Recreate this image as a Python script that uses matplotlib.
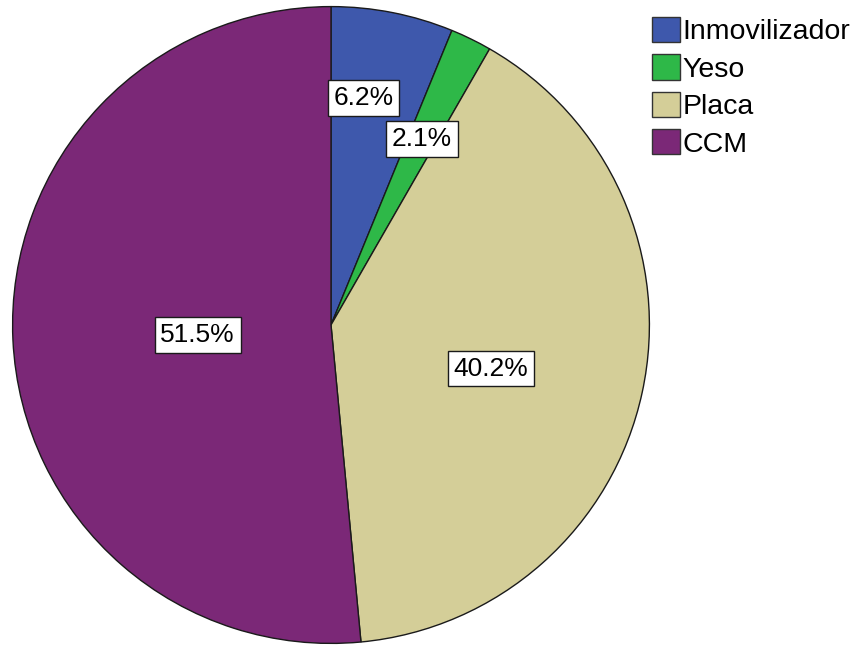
import numpy as np
import matplotlib.pyplot as plt
from matplotlib.patches import Patch

plt.rcParams['font.family'] = ['Liberation Sans', 'DejaVu Sans']

categories = ['Inmovilizador', 'Yeso', 'Placa', 'CCM']
percentages = [6.2, 2.1, 40.2, 51.5]
colors = ['#3E58AC', '#2EB848', '#D4CE98', '#7B2877']
# radial / angular placement of each percentage label
label_radius = [0.72, 0.65, 0.52, 0.42]
label_shift = [3.0, 0.0, -3.0, 1.5]

fig = plt.figure(figsize=(8.55, 6.45), dpi=100)
W, H = 855, 645
cx, cy, r = 331, 325, 320
ax = fig.add_axes([(cx - r) / W, (H - cy - r) / H, 2 * r / W, 2 * r / H])

wedges, _ = ax.pie(percentages, colors=colors, startangle=90, counterclock=False,
                   radius=1, wedgeprops=dict(edgecolor='#1a1a1a', linewidth=1.0))
ax.set_xlim(-1.005, 1.005)
ax.set_ylim(-1.005, 1.005)
ax.set_aspect('equal')
ax.axis('off')

for w, pct, rad, dth in zip(wedges, percentages, label_radius, label_shift):
    mid = np.deg2rad((w.theta1 + w.theta2) / 2 + dth)
    ax.text(rad * np.cos(mid), rad * np.sin(mid), f'{pct:.1f}%', ha='center', va='center',
            fontsize=19,
            bbox=dict(boxstyle='square,pad=0.22', facecolor='white', edgecolor='#1a1a1a', linewidth=1.0))

handles = [Patch(facecolor=c, edgecolor='#333333', linewidth=1.0) for c in colors]
fig.legend(handles, categories, loc='upper left', bbox_to_anchor=(652 / W, 1 - 17 / H),
           frameon=False, fontsize=20.5, handlelength=0.98, handleheight=0.98,
           handletextpad=0.08, labelspacing=0.32, borderpad=0, borderaxespad=0)

fig.savefig('out.png', dpi=100)
